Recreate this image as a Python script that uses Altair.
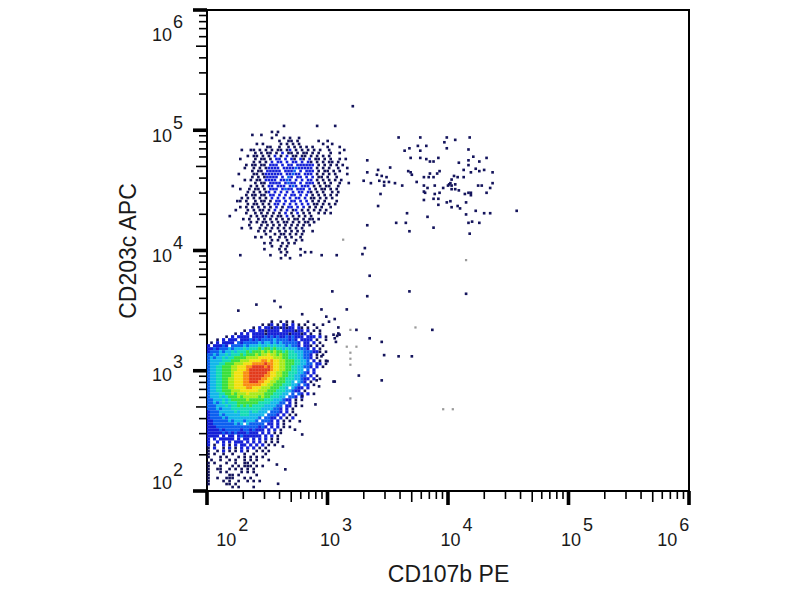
import altair as alt
import pandas as pd

# density levels: one character per 0.025 decade
BLOB_X0, BLOB_Y0, STEP = 2.0125, 3.408, 0.025
blob_rows = [
"                     0  0 0 0    0      0",
"                  0 01 0 10 1 0 0  0  0",
"               0 1 1101101011 10 0  0",
"            0 11 1101111 1111011 1 0 0",
"         0 1 1 111101111111011101 0  0",
"      0 1 1111 11112121211212111 111 1 0",
"   0 1 111 1112121222232222121 1111 0  0",
" 0 1 1111 212222232332323222221 11 1 0",
"1 11121 22223233343343433323221 110 0 0",
"1121222323334344454554544343332221 1 0",
"12223233434445455565656554544333222110 0",
"22323343444545556566766565544433221 0 0",
"23233434455556666777776665544433221 0",
"2333344455566677778878776655544332 1 0 0",
"23334455566677788889887766555443322 11 0",
"23344555667778899998987766554433221 1 0",
"23344555667778999999987766554433 2 1",
"2334455567778899999987766554443321 1",
"233445556777889999988776655443322 1 0",
"2334455667778899998877665544433211 1 0",
"23344556677788999887766555443 321 0",
"2334455667778888887766555444332 21 0",
"233445566777788777666555443 3211 1",
"2334455566677777766655544433211 0",
"233344556566676666655544433 2 21 1 0",
"23334345556566666565544433 221 1",
"2233343455555655555444333211 0 0",
"22323434445555555444433322 1 0",
"2223334344545454444333322 11 0 0",
"2223233344444444443333221 1 0",
"12223333343444344333 2221 1 0",
"1222323333344433333 2221 1 0 0",
"122223233333333332 2211 1 0 1",
"11222223233323332 2221 1 0 0",
"112222222323 322222 11 1 0",
"11122222222222222121 1 1 0 0",
"1111212222212212111 1 1 0",
"11111212121112111 1 1 0 0",
"1111 1 11 12111111 1 1 0",
"1 1 11111 1 11 1 1 1 0 0",
"1  1 1 1 111 1 1 1 0 0 0",
"1 0  1 0 1 11 1 1 1 0 0",
"0 1  0 1 0 1 1 1 0 0",
"0  0 1 0 0 1 0  0 0 0",
"0 0  0  0   0  0   0",
"0   0 0   0 0 0 0 0",
" 0  0  0 0  0 0 0   0",
"0 0   0  0  00 0",
"0   0   0 0 000 0 0",
"0  00  0 0 0 0 0",
"0   0 0    0 0 0",
"0      00 0     0",
"0  0  000   0 0",
"0    0 0  0  0 0 0",
"0     00 0",
"        0 0    0",
]

CLUSTER_X0, CLUSTER_Y0 = 2.164, 5.036
cluster_rows = [
"                   0          0     0",
"",
"               0 0",
"        0  0    0",
"               0   0 0  0",
"                 0  00 0      0  0",
"          0 0     0 0 0 0       0  0",
"             00  0  0 0 0 0 0    0   0",
"     0  00 0 0 0 00 01 0 0 0 0 0  0    0",
"         0 0 00 0 1 00 0 00 0 0   0  0",
"       0 00 0 0 1 0 1 00 00 0 0 0 0",
"    0    0 00 0 11 1 10 10 1 00 0 0  0 0",
"         0 0 0 1 11 1 11 1 10 0 0 00 0",
"      0 00 00 111 1 11 111111 0 0 0 0 0",
"      0  0 0 01111 1111211111 0 0 0  0  0",
"        0 00 11111 1112 1 111 0 00 0 0",
"    0    00 0111111 11211 111 0 0 0 0   0",
"        0 0 01111 1 21 11 1 1 00 0  0",
"      0 0 00 1111 1121 1 1 11 0 0 0 0 0",
"         0 00 1111 1211 1 111 0 0 0  0  0",
"  0     0 0 0 11 111 121 111 0 0 00  0",
"    0  0 00 0 111 1211 111 1 0 00 0 0",
"       0 0 0 01 1 1 1 1 11 10 0 0  0 0",
"      0 00 00 11 1 1 11 1 1 0 0 0 0 0",
"     0 0 0 0 0 1 1 1 1 11 1 00 0 0 0",
"   00 0  0 00 0 11 1 11 1 1 0 0 0   0",
"       0 00 0 0 11 1 1 1 1 1 00 0 0 0",
"    0 0 0 0 0 0 1 0 11 1 1 0 0 0  0",
"   0   0 0 00 0 1 0 1 01 0 0 0 0 0",
"      0  0 0 0 0 0 1 0 1 0 0  0 0 0",
" 0      0 0 00 0 00 1 0 0 0 0",
"     0 0  0 0 0 0 0 0 00 0 00 0",
"        0 0 00 0 0 00 0 0 00 0",
"       0   0 0 0 0 0 0 0 0 0",
"     0  0  0 0 0 0 0 0 0 0",
"          0 0 0  0 0 0 0 0  0",
"             0  0 00 0 0 0",
"         0 0  0  0 0 0  0",
"               0 0  0  0 0",
"            0 0   0 0 0",
"               0  0 0",
"            0    0 0    0",
"                  0 0     0 0",
"    0         0    0    0      0    0",
"                  0  0",
]

# single events, as decades (x exponent, y exponent)
dots_x = [3.59,3.77,3.99,4.06,4.18,3.97,3.75,3.82,3.68,3.64,3.77,3.99,4.17,3.69,3.77,3.82,3.85,3.92,3.88,4.21,4.17,4.32,4.26,3.33,4.17,4.09,3.52,3.42,3.67,3.69,3.70,3.93,3.91,3.85,3.80,3.84,3.88,4.23,4.30,4.26,4.19,4.13,4.37,3.33,3.41,3.45,3.49,3.43,3.47,3.51,3.30,3.36,3.56,3.62,3.74,3.80,3.83,3.89,3.96,3.80,3.81,3.89,3.93,3.44,3.47,3.92,3.88,3.80,3.92,3.99,4.02,4.03,4.08,4.10,4.15,4.23,4.30,4.35,4.15,3.66,3.83,3.65,3.57,3.33,3.88,4.17,4.20,4.26,4.57,3.42,4.32,4.28,4.37,4.35,4.19,4.25,4.13,
          4.05,4.08,4.03,4.02,4.01,4.00,4.03,4.06,4.03,4.06,4.09,4.14,4.17,4.19,
          3.68,4.18,3.31,3.29,3.35,3.04,3.68,4.15,3.33,3.16,3.06,3.09,3.24,3.87,3.35,3.45,3.10,3.08,3.06,3.07,3.47,3.59,3.70,3.26,3.45,3.06,
          2.95,3.09,3.05,2.99,2.95,2.91,3.05,2.93,3.00,2.90,2.79,2.79,2.65,2.59,2.58,2.26,2.41,2.56,2.61,2.79,2.63,2.73,2.77,3.21]
dots_y = [4.94,4.94,4.94,4.92,4.94,4.90,4.87,4.87,4.85,4.83,4.83,4.85,4.84,4.77,4.77,4.76,4.74,4.77,4.74,4.78,4.75,4.77,4.74,4.75,4.71,4.73,4.69,4.67,4.66,4.65,4.63,4.66,4.64,4.64,4.61,4.61,4.61,4.68,4.67,4.66,4.65,4.67,4.65,4.65,4.63,4.62,4.61,4.58,4.57,4.57,4.58,4.56,4.56,4.54,4.57,4.54,4.52,4.54,4.52,4.49,4.48,4.47,4.48,4.47,4.54,4.43,4.43,4.42,4.38,4.40,4.41,4.36,4.37,4.35,4.40,4.33,4.31,4.31,4.30,4.31,4.28,4.23,4.23,4.21,4.19,4.23,4.24,4.23,4.33,4.37,4.48,4.54,4.56,4.52,4.48,4.54,4.61,
          4.62,4.61,4.59,4.56,4.55,4.54,4.54,4.55,4.51,4.51,4.50,4.47,4.48,4.46,
          4.16,4.14,4.02,3.97,3.79,3.66,3.66,3.64,3.62,3.51,3.43,3.36,3.34,3.34,3.27,3.24,3.30,3.29,3.27,3.24,3.13,3.12,3.12,2.96,2.92,2.91,
          3.51,3.31,3.30,3.45,3.12,2.92,2.91,2.87,3.08,2.72,2.79,2.47,2.18,2.06,2.22,3.50,3.55,3.58,3.53,3.47,2.37,2.51,2.58,5.20]
faint_x = [3.13,4.15,3.73,3.19,3.16,3.24,3.19,3.19,3.19,3.19,4.04,3.96]
faint_y = [4.09,3.92,3.36,3.34,3.20,3.20,3.15,3.10,3.05,2.77,2.68,2.68]

decades = [2, 3, 4, 5, 6]
minor_mult = [2, 3, 4, 6, 7, 8, 9]
x_title, y_title = "CD107b PE", "CD203c APC"
x_label_at = [2.16, 3.02, 4.02, 5.02, 5.82]
y_label_at = [2.06, 2.96, 3.95, 4.94, 5.78]

level_domain = list("0123456789")
level_range = ["#14145c", "#1420d8", "#0c60f0", "#12b8ea", "#14dcb4", "#3ce03c",
               "#a8ea18", "#f2e010", "#fa8c10", "#e23a1c"]


def expand(rows, x0, y0, stagger=0.0):
    out = []
    for r, row in enumerate(rows):
        for c, ch in enumerate(row):
            if ch != " ":
                out.append({"x": 10 ** (x0 + c * STEP + (r % 2) * stagger),
                            "y": 10 ** (y0 - r * STEP), "level": ch})
    return out


grid = expand(blob_rows, BLOB_X0, BLOB_Y0)
cluster = expand(cluster_rows, CLUSTER_X0, CLUSTER_Y0, stagger=STEP / 2)
dense = pd.DataFrame([g for g in grid if g["level"] != "0"])
sparse = pd.DataFrame([g for g in grid if g["level"] == "0"] + cluster
                      + [{"x": 10 ** a, "y": 10 ** b, "level": "0"} for a, b in zip(dots_x, dots_y)])
faint = pd.DataFrame({"x": [10 ** a for a in faint_x], "y": [10 ** b for b in faint_y]})

xs = alt.Scale(type="log", domain=[100, 1000000], nice=False)
ys = alt.Scale(type="log", domain=[100, 1000000], nice=False)
ax_x = alt.Axis(title=x_title, labels=False, ticks=False, domain=False, grid=False,
                titleFont="Liberation Sans", titleFontSize=23, titleFontWeight="normal",
                titleColor="#1a1a1a", titlePadding=72)
ax_y = alt.Axis(title=y_title, labels=False, ticks=False, domain=False, grid=False,
                titleFont="Liberation Sans", titleFontSize=23, titleFontWeight="normal",
                titleColor="#1a1a1a", titlePadding=67)
X = alt.X("x:Q", scale=xs, axis=ax_x)
Y = alt.Y("y:Q", scale=ys, axis=ax_y)
color = alt.Color("level:N", scale=alt.Scale(domain=level_domain, range=level_range), legend=None)

dense_layer = alt.Chart(dense).mark_square(size=10, opacity=1, strokeWidth=0).encode(x=X, y=Y, color=color)
sparse_layer = alt.Chart(sparse).mark_square(size=7, opacity=1, strokeWidth=0).encode(x=X, y=Y, color=color)
faint_layer = alt.Chart(faint).mark_square(size=5, opacity=1, strokeWidth=0, color="#9a9a9a").encode(x=X, y=Y)

major = [10 ** d for d in decades]
fives = [5 * 10 ** d for d in decades[:-1]]
minors = [m * 10 ** d for d in decades[:-1] for m in minor_mult]


def tick_layers(values, length, width):
    dx = pd.DataFrame({"x": values})
    dy = pd.DataFrame({"y": values})
    return [
        alt.Chart(dx).mark_rule(color="black", strokeWidth=width).encode(
            x=X, y=alt.value(481), y2=alt.value(481 + length)),
        alt.Chart(dy).mark_rule(color="black", strokeWidth=width).encode(
            y=Y, x=alt.value(0), x2=alt.value(-length)),
    ]


ticks = tick_layers(minors, 8, 1.6) + tick_layers(fives, 11, 1.6) + tick_layers(major, 14, 3.6)

lab_x = pd.DataFrame({"x": [10 ** v for v in x_label_at], "exp": [str(d) for d in decades]})
lab_y = pd.DataFrame({"y": [10 ** v for v in y_label_at], "exp": [str(d) for d in decades]})
font = dict(font="Liberation Sans", fontSize=18, color="#1a1a1a", baseline="middle")
labels = [
    alt.Chart(lab_x).mark_text(text="10", **font).encode(x=X, y=alt.value(531)),
    alt.Chart(lab_x).mark_text(dx=17, **font).encode(x=X, y=alt.value(516), text="exp:N"),
    alt.Chart(lab_y).mark_text(text="10", **font).encode(y=Y, x=alt.value(-45)),
    alt.Chart(lab_y).mark_text(dy=-13, **font).encode(y=Y, x=alt.value(-29), text="exp:N"),
]

chart = alt.layer(dense_layer, sparse_layer, faint_layer, *ticks, *labels).properties(
    width=482, height=481,
    background="white",
    autosize=alt.AutoSizeParams(type="none"),
    padding={"left": 199, "top": 2, "right": 100, "bottom": 100},
).configure_view(stroke="black", strokeWidth=2)

chart.save("out.html", embed_options={"renderer": "svg", "actions": False})
